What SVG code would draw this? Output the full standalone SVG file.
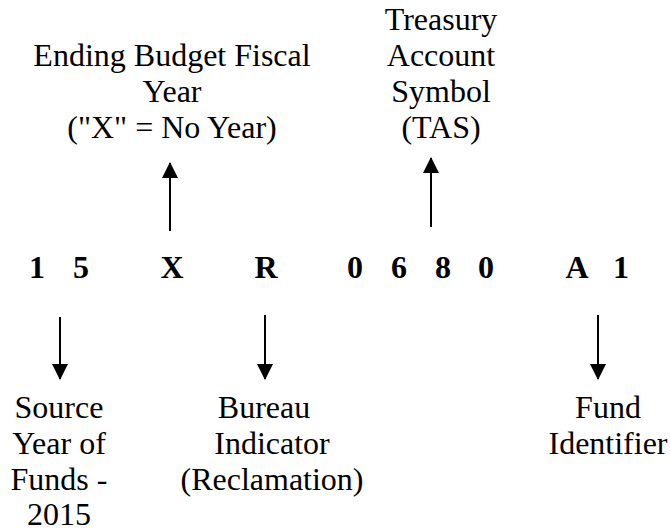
<svg xmlns="http://www.w3.org/2000/svg" width="670" height="531" viewBox="0 0 670 531">
<defs>
<marker id="ah" viewBox="0 0 16 16" refX="15" refY="8" markerWidth="16" markerHeight="16" markerUnits="userSpaceOnUse" orient="auto">
<path d="M0,0 L16,8 L0,16 Z" fill="#000"/>
</marker>
</defs>
<rect width="670" height="531" fill="#fff"/>
<g font-family="Liberation Serif" font-size="32" fill="#000" text-anchor="middle">
<g id="code" font-weight="bold">
<text x="37" y="278">1</text>
<text x="81" y="278">5</text>
<text x="172" y="278">X</text>
<text x="266" y="278">R</text>
<text x="355" y="278">0</text>
<text x="399" y="278">6</text>
<text x="443" y="278">8</text>
<text x="486" y="278">0</text>
<text x="577" y="278">A</text>
<text x="621" y="278">1</text>
</g>
<g id="ending-year">
<text x="172" y="66">Ending Budget Fiscal</text>
<text x="172" y="102">Year</text>
<text x="172" y="138">("X" = No Year)</text>
</g>
<g id="tas">
<text x="441" y="30">Treasury</text>
<text x="441" y="66">Account</text>
<text x="441" y="102">Symbol</text>
<text x="441" y="138">(TAS)</text>
</g>
<g id="source-year">
<text x="59" y="418">Source</text>
<text x="59" y="454">Year of</text>
<text x="59" y="490">Funds -</text>
<text x="59" y="525">2015</text>
</g>
<g id="bureau">
<text x="264" y="418">Bureau</text>
<text x="272" y="454">Indicator</text>
<text x="272" y="490">(Reclamation)</text>
</g>
<g id="fund">
<text x="608" y="418">Fund</text>
<text x="608" y="454">Identifier</text>
</g>
</g>
<g id="connectors" stroke="#000" stroke-width="2">
<line x1="170" y1="231" x2="170" y2="163" marker-end="url(#ah)"/>
<line x1="431" y1="227" x2="431" y2="158" marker-end="url(#ah)"/>
<line x1="60" y1="317" x2="60" y2="379" marker-end="url(#ah)"/>
<line x1="265" y1="315" x2="265" y2="379" marker-end="url(#ah)"/>
<line x1="598" y1="315" x2="598" y2="379" marker-end="url(#ah)"/>
</g>
</svg>
